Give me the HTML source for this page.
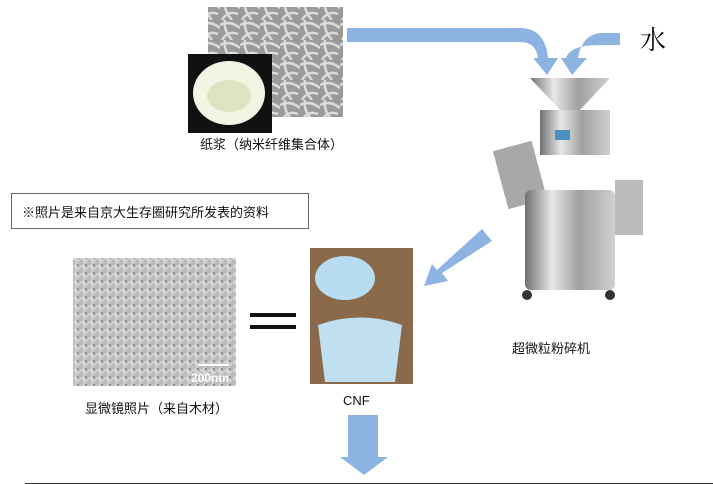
<!DOCTYPE html>
<html><head><meta charset="utf-8"><style>
body{margin:0;width:713px;height:484px;background:#fff;overflow:hidden;position:relative;font-family:"Liberation Sans","Noto Sans CJK SC",sans-serif}
.t{position:absolute;font-size:13px;color:#111;white-space:nowrap}
</style></head><body>
<svg width="713" height="484" style="position:absolute;left:0;top:0">
<defs>
<pattern id="fib" width="20" height="20" patternUnits="userSpaceOnUse">
<rect width="20" height="20" fill="#9a9a9a"/>
<path d="M0 5 Q10 0 20 8 M2 20 Q8 10 18 14 M5 0 Q3 10 12 20" stroke="#dcdcdc" stroke-width="2.5" fill="none"/>
</pattern>
<pattern id="mic" width="8" height="8" patternUnits="userSpaceOnUse">
<rect width="8" height="8" fill="#bcbcbc"/>
<path d="M0 2 L8 5 M3 0 L5 8" stroke="#e4e4e4" stroke-width="1"/>
<circle cx="6" cy="1" r="0.7" fill="#555"/>
</pattern>
<linearGradient id="steel" x1="0" x2="1">
<stop offset="0" stop-color="#707070"/><stop offset="0.3" stop-color="#e8e8e8"/><stop offset="0.6" stop-color="#a0a0a0"/><stop offset="1" stop-color="#d0d0d0"/>
</linearGradient>
</defs>
<rect x="208" y="7" width="135" height="110" fill="url(#fib)"/>
<rect x="188" y="54" width="84" height="79" fill="#111"/>
<ellipse cx="229" cy="93" rx="36" ry="32" fill="#f2f4e4"/>
<ellipse cx="229" cy="96" rx="22" ry="16" fill="#dfe3c4"/>
<path d="M347 28 L520 28 Q545 28 548 58 L558 58 L547 75 L533 58 L538 58 Q536 42 520 42 L347 42 Z" fill="#8db3e2"/>
<path d="M620 33 L600 33 Q582 35 578 58 L587 58 L572 75 L561 58 L566 58 Q570 45 600 45 L620 45 Z" fill="#8db3e2"/>
<path d="M530 78 L610 78 L580 110 L560 110 Z" fill="url(#steel)"/>
<rect x="540" y="110" width="70" height="45" fill="url(#steel)"/>
<rect x="555" y="130" width="15" height="10" fill="#4a90c0"/>
<rect x="500" y="145" width="40" height="60" fill="#a8a8a8" transform="rotate(-15 520 175)"/>
<rect x="525" y="190" width="90" height="100" rx="6" fill="url(#steel)"/>
<rect x="615" y="180" width="28" height="55" fill="#bbb"/>
<circle cx="527" cy="295" r="5" fill="#333"/><circle cx="610" cy="295" r="5" fill="#333"/>
<path d="M482 229 L492 241 L442 273 L448 281 L424 286 L432 264 L437 270 Z" fill="#8db3e2"/>
<rect x="11.5" y="193.5" width="297" height="35" fill="#fff" stroke="#666"/>
<rect x="73" y="258" width="163" height="128" fill="url(#mic)"/>
<rect x="198" y="364" width="30" height="2" fill="#fff"/>
<rect x="250" y="313" width="46" height="4" fill="#111"/>
<rect x="250" y="325" width="46" height="4" fill="#111"/>
<rect x="310" y="248" width="103" height="136" fill="#8a6a4a"/>
<ellipse cx="345" cy="278" rx="30" ry="22" fill="#b8dcf0"/>
<path d="M318 325 Q360 310 402 325 L395 382 L325 382 Z" fill="#c0e0f2"/>
<rect x="348" y="415" width="30" height="42" fill="#8db3e2"/>
<path d="M340 457 L388 457 L364 475 Z" fill="#8db3e2"/>
<line x1="25" y1="483.5" x2="713" y2="483.5" stroke="#333"/>
<text x="191" y="382" font-size="12" font-weight="bold" fill="#fff" font-family="Liberation Sans">200nm</text>
</svg>
<div class="t" style="left:200px;top:134px">纸浆（纳米纤维集合体）</div>
<div class="t" style="left:640px;top:20px;font-size:26px;font-family:'Liberation Serif','Noto Serif CJK SC',serif">水</div>
<div class="t" style="left:22px;top:202px">※照片是来自京大生存圈研究所发表的资料</div>
<div class="t" style="left:512px;top:338px">超微粒粉碎机</div>
<div class="t" style="left:85px;top:398px">显微镜照片（来自木材）</div>
<div class="t" style="left:343px;top:393px">CNF</div>
</body></html>
